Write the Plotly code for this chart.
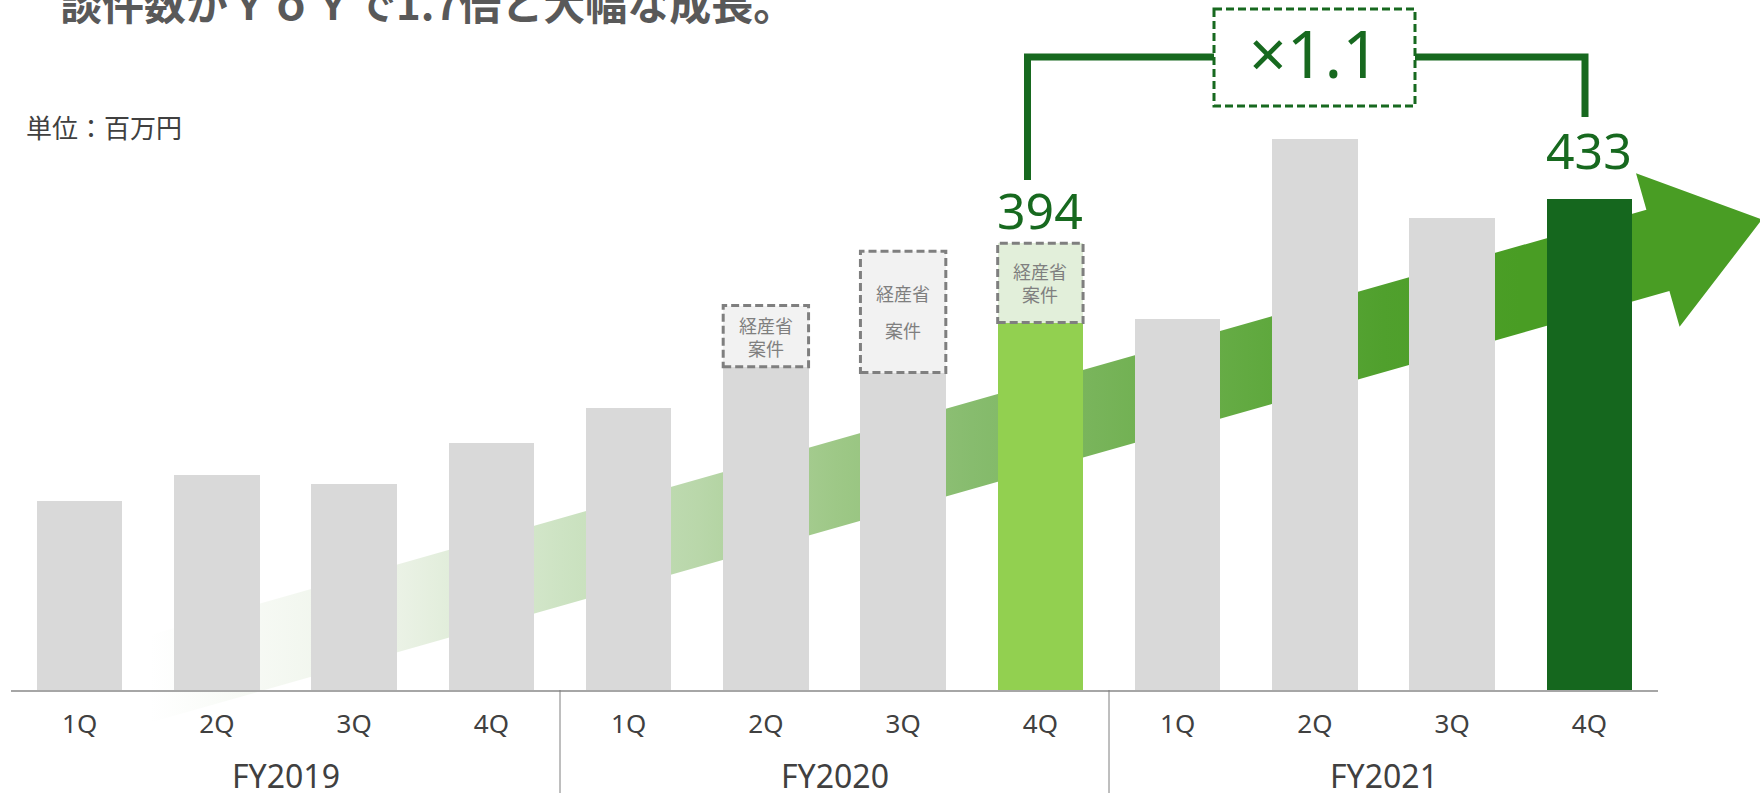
import plotly.graph_objects as go

# ---- data -------------------------------------------------------------
quarters = ["1Q", "2Q", "3Q", "4Q", "1Q", "2Q", "3Q", "4Q", "1Q", "2Q", "3Q", "4Q"]
fiscal_years = ["FY2019", "FY2020", "FY2021"]
base_sales = [167, 190, 182, 218, 249, 285, 280, 324, 327, 486, 416, 433]   # 百万円
meti_sales = [0, 0, 0, 0, 0, 54, 107, 70, 0, 0, 0, 0]                        # 経産省案件
bar_colors = ["#d9d9d9"] * 7 + ["#92d050"] + ["#d9d9d9"] * 3 + ["#15671e"]
meti_colors = ["#f2f2f2"] * 7 + ["#e2efda"] + ["#f2f2f2"] * 4

title_text = "談件数がＹｏＹで1.7倍と大幅な成長。"
unit_text = "単位：百万円"
meti_label = "経産省"
meti_label2 = "案件"

# ---- derived -----------------------------------------------------------
totals = [b + m for b, m in zip(base_sales, meti_sales)]
idx_prev, idx_last = 7, 11
growth = totals[idx_last] / totals[idx_prev]

W, H = 1760, 793
BASE_Y = 690            # pixel row of the category axis
PX_PER_UNIT = 1.1339
BARGAP = 0.378
GREEN = "#17691f"
GRAY_TXT = "#404040"
JP = "Noto Sans CJK JP"
LAT = "Noto Sans, Noto Sans CJK JP"

fig = go.Figure()

# ---- growth arrow (pixel space on x/y, drawn beneath the bars) -------
m = -0.284
cx0, cy0, half = 1100.0, 408.9, 43.85


def centre(x):
    return cy0 + m * (x - cx0)


arrow_x = [90, 1646.4, 1636, 1762, 1679.6, 1669.4, 90, 90]
arrow_y = [centre(90) - half, centre(1646.4) - half, 173.3, 219.5, 326.7,
           centre(1669.4) + half, centre(90) + half, centre(90) - half]

fig.add_trace(go.Scatter(
    x=arrow_x, y=arrow_y, mode="lines", fill="toself",
    line=dict(width=0, color="rgba(0,0,0,0)"),
    fillgradient=dict(
        type="horizontal", start=150, stop=1520,
        colorscale=[
            [0.0, "rgb(255,255,255)"],
            [0.18, "rgb(235,242,230)"],
            [0.30, "rgb(205,227,195)"],
            [0.40, "rgb(185,215,170)"],
            [0.50, "rgb(158,200,135)"],
            [0.60, "rgb(135,188,110)"],
            [0.69, "rgb(120,180,90)"],
            [0.80, "rgb(98,170,65)"],
            [0.90, "rgb(80,160,45)"],
            [1.0, "rgb(73,157,36)"],
        ]),
    hoverinfo="skip", showlegend=False, xaxis="x", yaxis="y"))

# ---- bars ---------------------------------------------------------------
xs = list(range(len(quarters)))
fig.add_trace(go.Bar(x=xs, y=base_sales, marker=dict(color=bar_colors, line=dict(width=0)),
                     xaxis="x2", yaxis="y2", showlegend=False, hoverinfo="skip"))
fig.add_trace(go.Bar(x=xs, y=meti_sales, marker=dict(color=meti_colors, line=dict(width=0)),
                     xaxis="x2", yaxis="y2", showlegend=False, hoverinfo="skip"))

shapes = []
annotations = []
bw = 1 - BARGAP

# dashed outlines + captions for the 経産省 portion
for i, (b, mv) in enumerate(zip(base_sales, meti_sales)):
    if mv <= 0:
        continue
    shapes.append(dict(type="rect", xref="x2", yref="y2",
                       x0=i - bw / 2, x1=i + bw / 2, y0=b, y1=b + mv,
                       line=dict(color="#7f7f7f", width=3, dash="8px,4px"),
                       fillcolor="rgba(0,0,0,0)", layer="above"))
    mid = b + mv / 2
    if mv > 90:
        annotations.append(dict(xref="x2", yref="y2", x=i, y=mid, yshift=18.5,
                                text=meti_label, showarrow=False,
                                font=dict(family=JP, size=18, color="#7f7f7f")))
        annotations.append(dict(xref="x2", yref="y2", x=i, y=mid, yshift=-18.5,
                                text=meti_label2, showarrow=False,
                                font=dict(family=JP, size=18, color="#7f7f7f")))
    else:
        annotations.append(dict(xref="x2", yref="y2", x=i, y=mid,
                                text=f"{meti_label}<br>{meti_label2}", showarrow=False,
                                font=dict(family=JP, size=18, color="#7f7f7f")))

# fiscal-year separators below the axis
for sep in (3.5, 7.5):
    shapes.append(dict(type="line", xref="x2", yref="paper", x0=sep, x1=sep,
                       y0=0, y1=(H - BASE_Y) / H,
                       line=dict(color="#7f7f7f", width=1)))

# fiscal-year labels
for k, fy in enumerate(fiscal_years):
    annotations.append(dict(xref="x2", yref="paper", x=4 * k + 1.5, y=(H - 775) / H,
                            yanchor="middle", text=fy, showarrow=False,
                            font=dict(family=LAT, size=32, color=GRAY_TXT)))

# value labels for the two highlighted quarters
annotations.append(dict(xref="x2", yref="y2", x=idx_prev, y=totals[idx_prev], yshift=33,
                        yanchor="middle", text=f"{totals[idx_prev]}", showarrow=False,
                        font=dict(family=LAT, size=50, color=GREEN)))
annotations.append(dict(xref="x2", yref="y2", x=idx_last, y=totals[idx_last], yshift=49,
                        yanchor="middle", text=f"{totals[idx_last]}", showarrow=False,
                        font=dict(family=LAT, size=50, color=GREEN)))

# growth bracket
shapes.append(dict(type="path", xref="x", yref="y",
                   path="M 1027.5,180 L 1027.5,57 L 1214,57",
                   line=dict(color=GREEN, width=7)))
shapes.append(dict(type="path", xref="x", yref="y",
                   path="M 1415,57 L 1585,57 L 1585,117",
                   line=dict(color=GREEN, width=7)))
shapes.append(dict(type="rect", xref="x", yref="y", x0=1214, x1=1415, y0=9, y1=106,
                   line=dict(color=GREEN, width=3, dash="8px,4px"), fillcolor="white"))
annotations.append(dict(xref="x", yref="y", x=1314, y=52, yanchor="middle",
                        text=f"×{growth:.1f}", showarrow=False,
                        font=dict(family=LAT, size=66, color=GREEN)))

# title and unit
annotations.append(dict(xref="paper", yref="paper", x=58 / W, y=1 - 2 / H,
                        xanchor="left", yanchor="middle", text=f"<b>{title_text}</b>",
                        showarrow=False, font=dict(family=JP, size=42, color="#595959")))
annotations.append(dict(xref="paper", yref="paper", x=24 / W, y=1 - 126 / H,
                        xanchor="left", yanchor="middle", text=unit_text,
                        showarrow=False, font=dict(family=JP, size=26, color=GRAY_TXT)))

fig.update_layout(
    width=W, height=H, autosize=False,
    margin=dict(l=0, r=0, t=0, b=0),
    paper_bgcolor="white", plot_bgcolor="rgba(0,0,0,0)",
    barmode="stack", bargap=BARGAP,
    xaxis=dict(domain=[0, 1], range=[0, W], visible=False, fixedrange=True),
    yaxis=dict(domain=[0, 1], range=[H, 0], visible=False, fixedrange=True),
    xaxis2=dict(domain=[11 / W, 1658 / W], range=[-0.5, 11.5], anchor="y2",
                tickmode="array", tickvals=xs, ticktext=quarters,
                showline=True, linecolor="#a6a6a6", linewidth=2,
                ticks="", showgrid=False, zeroline=False, ticklabelstandoff=10,
                tickfont=dict(family=LAT, size=26, color=GRAY_TXT)),
    yaxis2=dict(domain=[(H - BASE_Y) / H, 1], range=[0, BASE_Y / PX_PER_UNIT],
                anchor="x2", visible=False, fixedrange=True),
    shapes=shapes, annotations=annotations,
)

fig.write_html("out.html")
